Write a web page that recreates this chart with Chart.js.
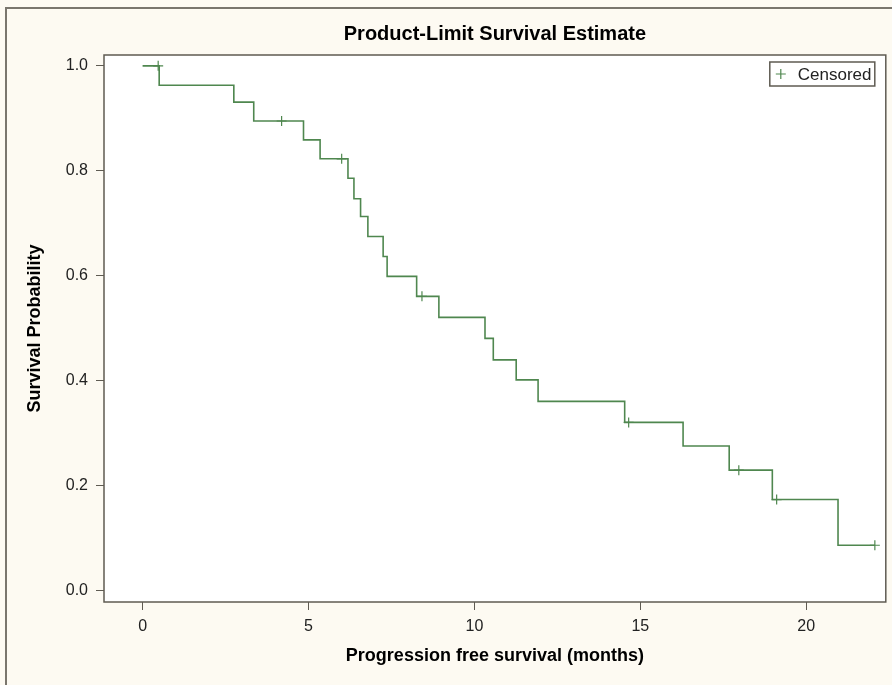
<!DOCTYPE html>
<html>
<head>
<meta charset="utf-8">
<script src="https://cdn.jsdelivr.net/npm/chart.js@4.4.0/dist/chart.umd.min.js"></script>
<style>
  html, body { margin: 0; padding: 0; background: #fdfaf2; }
  #frame { position: absolute; left: 5px; top: 7px; width: 950px; height: 750px;
           border-left: 2px solid #7a766d; border-top: 2px solid #7a766d; }
  #wrap { position: absolute; left: 0; top: 0; width: 892px; height: 685px; }
</style>
</head>
<body>
<div id="frame"></div>
<div id="wrap"><canvas id="kmChart" width="892" height="685"></canvas></div>
<script>
// Kaplan-Meier step curve: event times and survival after each step
const stepTimes = [0, 0.50, 2.75, 3.35, 4.85, 5.35, 6.19, 6.37, 6.57, 6.79, 7.25, 7.37,
                   8.26, 8.93, 10.32, 10.57, 11.26, 11.92, 14.53, 16.29, 17.68, 18.98, 20.96, 22.07];
const survival = [1.0, 0.963, 0.931, 0.895, 0.859, 0.823, 0.786, 0.747, 0.713, 0.675, 0.637, 0.599,
                  0.561, 0.521, 0.481, 0.440, 0.402, 0.361, 0.321, 0.276, 0.230, 0.174, 0.087, 0.087];

// censored observations
const censorTimes = [0.47, 4.19, 6.00, 8.42, 14.65, 17.97, 19.11, 22.07];
const censorSurv = [1.0, 0.895, 0.823, 0.561, 0.321, 0.230, 0.174, 0.087];

// tick labels
const xTickValues = [0, 5, 10, 15, 20];
const yTickValues = [0.0, 0.2, 0.4, 0.6, 0.8, 1.0];

const green = '#4f874f';
const axisColor = '#5f5b52';
const fontFamily = "'Liberation Sans', Arial, Helvetica, sans-serif";

const curvePoints = stepTimes.map((t, i) => ({ x: t, y: survival[i] }));
const censorPoints = censorTimes.map((t, i) => ({ x: t, y: censorSurv[i] }));

// white plot area + frame around it
const plotFrame = {
    id: 'plotFrame',
    beforeDraw(chart) {
        const a = chart.chartArea, ctx = chart.ctx;
        ctx.save();
        ctx.fillStyle = '#ffffff';
        ctx.fillRect(a.left, a.top, a.right - a.left, a.bottom - a.top);
        ctx.restore();
    },
    afterDraw(chart) {
        const a = chart.chartArea, ctx = chart.ctx;
        ctx.save();
        ctx.strokeStyle = axisColor;
        ctx.lineWidth = 1.5;
        ctx.strokeRect(a.left, a.top, a.right - a.left, a.bottom - a.top);
        ctx.restore();
    }
};

// boxed legend in the top right corner of the plot
const censorLegend = {
    id: 'censorLegend',
    afterDraw(chart) {
        const a = chart.chartArea, ctx = chart.ctx;
        const ds = chart.data.datasets[1];
        const w = 105, h = 24;
        const x = a.right - 11 - w, y = a.top + 7;
        ctx.save();
        ctx.fillStyle = '#ffffff';
        ctx.fillRect(x, y, w, h);
        ctx.strokeStyle = axisColor;
        ctx.lineWidth = 1.5;
        ctx.strokeRect(x, y, w, h);
        ctx.strokeStyle = ds.borderColor;
        ctx.lineWidth = 1.2;
        const cx = x + 11, cy = y + h / 2;
        ctx.beginPath();
        ctx.moveTo(cx - 5, cy); ctx.lineTo(cx + 5, cy);
        ctx.moveTo(cx, cy - 5); ctx.lineTo(cx, cy + 5);
        ctx.stroke();
        ctx.fillStyle = '#222222';
        ctx.font = '17px ' + fontFamily;
        ctx.textBaseline = 'middle';
        ctx.fillText(ds.label, x + 28, cy + 1);
        ctx.restore();
    }
};

new Chart(document.getElementById('kmChart').getContext('2d'), {
    type: 'line',
    data: {
        datasets: [{
            label: 'Survival',
            data: curvePoints,
            stepped: 'before',
            borderColor: green,
            borderWidth: 1.6,
            pointRadius: 0,
            fill: false
        }, {
            label: 'Censored',
            type: 'scatter',
            data: censorPoints,
            showLine: false,
            pointStyle: 'cross',
            pointRadius: 5,
            borderColor: green,
            borderWidth: 1.2
        }]
    },
    options: {
        responsive: false,
        animation: false,
        layout: { padding: { left: 0, right: 4, top: 0, bottom: 0 } },
        plugins: {
            legend: { display: false },
            tooltip: { enabled: false },
            title: {
                display: true,
                text: 'Product-Limit Survival Estimate',
                fullSize: false,
                color: '#000000',
                font: { family: fontFamily, size: 20, weight: 'bold' },
                padding: { top: 22, bottom: 9 }
            }
        },
        scales: {
            x: {
                type: 'linear',
                min: -1.163,
                max: 22.40,
                afterFit(scale) { scale.height = 83; },
                afterBuildTicks(scale) { scale.ticks = xTickValues.map(v => ({ value: v })); },
                border: { display: false },
                grid: { drawOnChartArea: false, drawTicks: true, tickLength: 8, color: axisColor, lineWidth: 1 },
                ticks: {
                    color: '#222222',
                    padding: 7,
                    font: { family: fontFamily, size: 16 },
                    callback: v => String(v)
                },
                title: {
                    display: true,
                    text: 'Progression free survival (months)',
                    color: '#000000',
                    font: { family: fontFamily, size: 18, weight: 'bold' },
                    padding: { top: 0, bottom: 18 }
                }
            },
            y: {
                type: 'linear',
                min: -0.0211,
                max: 1.0207,
                afterFit(scale) { scale.width = 104; },
                afterBuildTicks(scale) { scale.ticks = yTickValues.map(v => ({ value: v })); },
                border: { display: false },
                grid: { drawOnChartArea: false, drawTicks: true, tickLength: 8, color: axisColor, lineWidth: 1 },
                ticks: {
                    color: '#222222',
                    padding: 8,
                    font: { family: fontFamily, size: 16 },
                    callback: v => Number(v).toFixed(1)
                },
                title: {
                    display: true,
                    text: 'Survival Probability',
                    color: '#000000',
                    font: { family: fontFamily, size: 18, weight: 'bold' },
                    padding: { top: 24, bottom: 0 }
                }
            }
        }
    },
    plugins: [plotFrame, censorLegend]
});
</script>
</body>
</html>
